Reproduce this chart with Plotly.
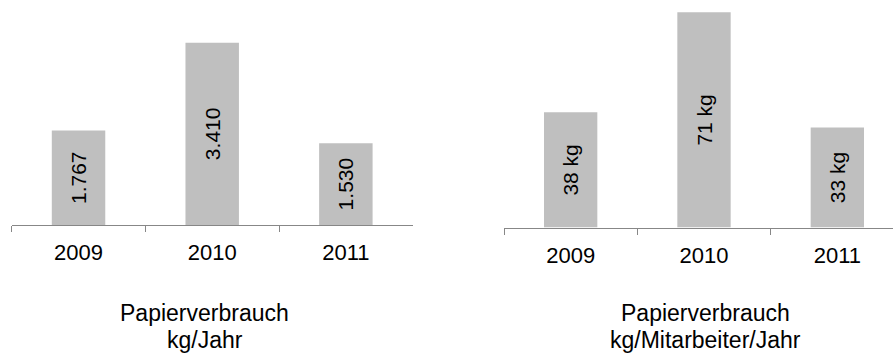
import plotly.graph_objects as go

years = ["2009", "2010", "2011"]
paper_kg_per_year = [1767, 3410, 1530]
paper_kg_per_employee = [38, 71, 33]
title_left = ["Papierverbrauch", "kg/Jahr"]
title_right = ["Papierverbrauch", "kg/Mitarbeiter/Jahr"]

W, H = 893, 354
BAR = "#bfbfbf"
AX = "#878787"
FONT = "Liberation Sans, Arial, sans-serif"

fig = go.Figure()
fig.add_trace(go.Bar(x=years, y=paper_kg_per_year, marker_color=BAR, marker_line_width=0,
                     texttemplate="%{y:,}", textposition="inside", insidetextanchor="middle",
                     textangle=-90, textfont=dict(size=21, color="black", family=FONT),
                     xaxis="x", yaxis="y", hoverinfo="skip", cliponaxis=False))
fig.add_trace(go.Bar(x=years, y=paper_kg_per_employee, marker_color=BAR, marker_line_width=0,
                     texttemplate="%{y} kg", textposition="inside", insidetextanchor="middle",
                     textangle=-90, textfont=dict(size=21, color="black", family=FONT),
                     xaxis="x2", yaxis="y2", hoverinfo="skip"))

def px_x(p):
    return p / W

def px_y(p):
    return (H - p) / H

xcommon = dict(type="category", tickson="boundaries", ticks="outside", ticklen=6,
               tickcolor=AX, tickwidth=1, showline=True, linecolor=AX, linewidth=1,
               showgrid=False, zeroline=False, fixedrange=True,
               tickfont=dict(size=22, color="black", family=FONT), ticklabelstandoff=8)

fig.update_layout(
    width=W, height=H, margin=dict(l=0, r=0, t=0, b=0),
    paper_bgcolor="white", plot_bgcolor="white", showlegend=False,
    bargap=0.6, separators=",.", uniformtext=dict(mode=False),
    font=dict(family=FONT, color="black"),
    xaxis=dict(domain=[px_x(11.7), px_x(412.7)], range=[-0.5, 2.5], anchor="y", **xcommon),
    yaxis=dict(domain=[px_y(225), 1], range=[0, 3410 * 225 / 182.3], visible=False),
    xaxis2=dict(domain=[px_x(504), 1], range=[-0.5, 2.5 - 11 / 133.3], anchor="y2", **xcommon),
    yaxis2=dict(domain=[px_y(227.5), 1], range=[0, 71 * 227.5 / 215.2], visible=False),
)

anns = []
for cx, lines in [(204.5, title_left), (705.5, title_right)]:
    for i, t in enumerate(lines):
        anns.append(dict(text=t, xref="paper", yref="paper", x=px_x(cx), y=px_y(313 + 27 * i),
                         xanchor="center", yanchor="middle", showarrow=False,
                         font=dict(size=23, color="black", family=FONT)))
fig.update_layout(annotations=anns)

fig.write_html("out.html")
